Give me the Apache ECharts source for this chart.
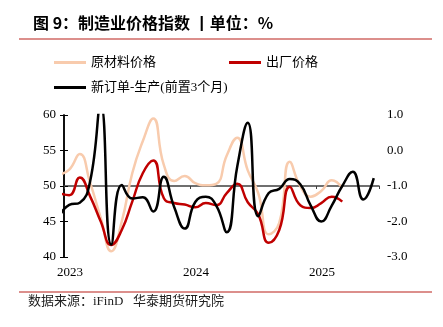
<!DOCTYPE html>
<html><head><meta charset="utf-8">
<script src="https://cdn.jsdelivr.net/npm/echarts@6/dist/echarts.min.js"></script>
<style>html,body{margin:0;padding:0;background:#fff}#c{width:443px;height:327px}</style>
</head><body><div id="c"></div>
<script>
// Months (Dec 2022 partly outside the plotted window, Jan 2023 .. Jun 2025)
const months = ['2022-12','2023-01','2023-02','2023-03','2023-04','2023-05','2023-06','2023-07','2023-08','2023-09','2023-10','2023-11','2023-12',
  '2024-01','2024-02','2024-03','2024-04','2024-05','2024-06','2024-07','2024-08','2024-09','2024-10','2024-11','2024-12',
  '2025-01','2025-02','2025-03','2025-04','2025-05','2025-06'];
const rawMaterial = [51.6, 52.3, 54.5, 50.4, 45.5, 40.8, 45.0, 51.8, 56.3, 59.5, 53.0, 50.7, 51.4,
  50.4, 50.1, 50.3, 54.3, 56.8, 52.2, 49.0, 43.2, 44.8, 53.4, 50.0, 48.5,
  49.3, 50.8, 49.7, null, null, null];
const exFactory = [49.0, 48.7, 51.2, 48.5, 45.0, 41.7, 43.8, 47.8, 51.8, 53.6, 48.3, 47.6, 47.4,
  47.0, 47.6, 47.3, 49.0, 50.3, 47.7, 46.0, 42.0, 43.8, 49.9, 47.3, 46.9,
  47.6, 48.5, 47.8, null, null, null];
const ordersMinusProd = [-1.9, -1.53, -1.47, -0.85, 1.3, -2.65, -0.97, -1.35, -1.32, -1.72, -0.74, -1.6, -2.2,
  -1.45, -1.3, -1.55, -2.3, -0.45, 0.78, -1.85, -1.2, -1.08, -0.8, -0.95, -1.55,
  -2.0, -1.55, -1.0, -0.6, -1.38, -0.78];
const yearLabels = ['2023', '2024', '2025'];
const seriesNames = ['原材料价格', '出厂价格', '新订单-生产(前置3个月)'];

// x position: month index from Jan 2023 (0), point at middle of month
function toPoints(arr) {
  const out = [];
  arr.forEach((v, i) => { if (v !== null) out.push([i - 0.5, v]); });
  return out;
}

const serif = 'Liberation Serif, "Noto Sans CJK SC", serif';
const SMOOTH = 0.5;
const chart = echarts.init(document.getElementById('c'), null, { renderer: 'canvas' });
chart.setOption({
  animation: false,
  backgroundColor: '#fff',
  grid: { left: 64, right: 64, top: 115, bottom: 70, containLabel: false },
  legend: [
    { data: [seriesNames[0]], left: 54, top: 56, padding: 0, itemWidth: 32, itemHeight: 3, icon: 'rect',
      textStyle: { fontFamily: serif, fontSize: 13, color: '#000' } },
    { data: [seriesNames[1]], left: 229, top: 56, padding: 0, itemWidth: 32, itemHeight: 3, icon: 'rect',
      textStyle: { fontFamily: serif, fontSize: 13, color: '#000' } },
    { data: [seriesNames[2]], left: 54, top: 81, padding: 0, itemWidth: 32, itemHeight: 3, icon: 'rect',
      textStyle: { fontFamily: serif, fontSize: 13, color: '#000' } }
  ],
  xAxis: [
    { type: 'value', min: 0, max: 30, interval: 12, position: 'bottom',
      axisLine: { show: false }, axisTick: { show: false }, splitLine: { show: false },
      axisLabel: { margin: 9, fontFamily: serif, fontSize: 13, color: '#000', padding: [0, 0, 0, 12],
        showMaxLabel: false,
        formatter: v => (v % 12 === 0 && v / 12 < yearLabels.length) ? yearLabels[v / 12] : '' } },
    { type: 'value', min: 0, max: 30, interval: 12, position: 'bottom', offset: -71,
      axisLine: { show: true, lineStyle: { color: '#404040', width: 1.5 } },
      axisTick: { show: true, length: 3, lineStyle: { color: '#404040', width: 1 } },
      axisLabel: { show: false }, splitLine: { show: false } }
  ],
  yAxis: [
    { type: 'value', min: 40, max: 60, interval: 5, position: 'left',
      axisLine: { show: true, lineStyle: { color: '#000', width: 1.5 } },
      axisTick: { show: true, length: 4, lineStyle: { color: '#000' } },
      splitLine: { show: false },
      axisLabel: { margin: 8, fontFamily: serif, fontSize: 13, color: '#000' } },
    { type: 'value', min: -3, max: 1, interval: 1, position: 'right',
      axisLine: { show: true, lineStyle: { color: '#000', width: 1.5 } },
      axisTick: { show: true, length: 4, lineStyle: { color: '#000' } },
      splitLine: { show: false },
      axisLabel: { margin: 8, fontFamily: serif, fontSize: 13, color: '#000', formatter: v => v.toFixed(1) } }
  ],
  series: [
    { name: seriesNames[0], type: 'line', xAxisIndex: 0, yAxisIndex: 0, data: toPoints(rawMaterial),
      smooth: SMOOTH, symbol: 'none', clip: true, lineStyle: { color: '#F8CBAD', width: 2.5 }, itemStyle: { color: '#F8CBAD' } },
    { name: seriesNames[1], type: 'line', xAxisIndex: 0, yAxisIndex: 0, data: toPoints(exFactory),
      smooth: SMOOTH, symbol: 'none', clip: true, lineStyle: { color: '#C00000', width: 2.5 }, itemStyle: { color: '#C00000' } },
    { name: seriesNames[2], type: 'line', xAxisIndex: 0, yAxisIndex: 1, data: toPoints(ordersMinusProd),
      smooth: SMOOTH, symbol: 'none', clip: true, lineStyle: { color: '#000000', width: 2.5 }, itemStyle: { color: '#000000' } }
  ],
  graphic: [
    { type: 'text', left: 33, top: 15, style: { text: '图 9：制造业价格指数 丨单位：%', font: 'bold 16px "Noto Sans CJK SC", sans-serif', fill: '#000' } },
    { type: 'line', shape: { x1: 19, y1: 39, x2: 432, y2: 39 }, style: { stroke: '#D06A66', lineWidth: 1.5 } },
    { type: 'line', shape: { x1: 19, y1: 292, x2: 432, y2: 292 }, style: { stroke: '#D06A66', lineWidth: 1.5 } },
    { type: 'text', left: 28, top: 295, style: { text: '数据来源：iFinD   华泰期货研究院', font: '13px Liberation Serif, "Noto Sans CJK SC", serif', fill: '#222' } }
  ]
});
</script></body></html>
